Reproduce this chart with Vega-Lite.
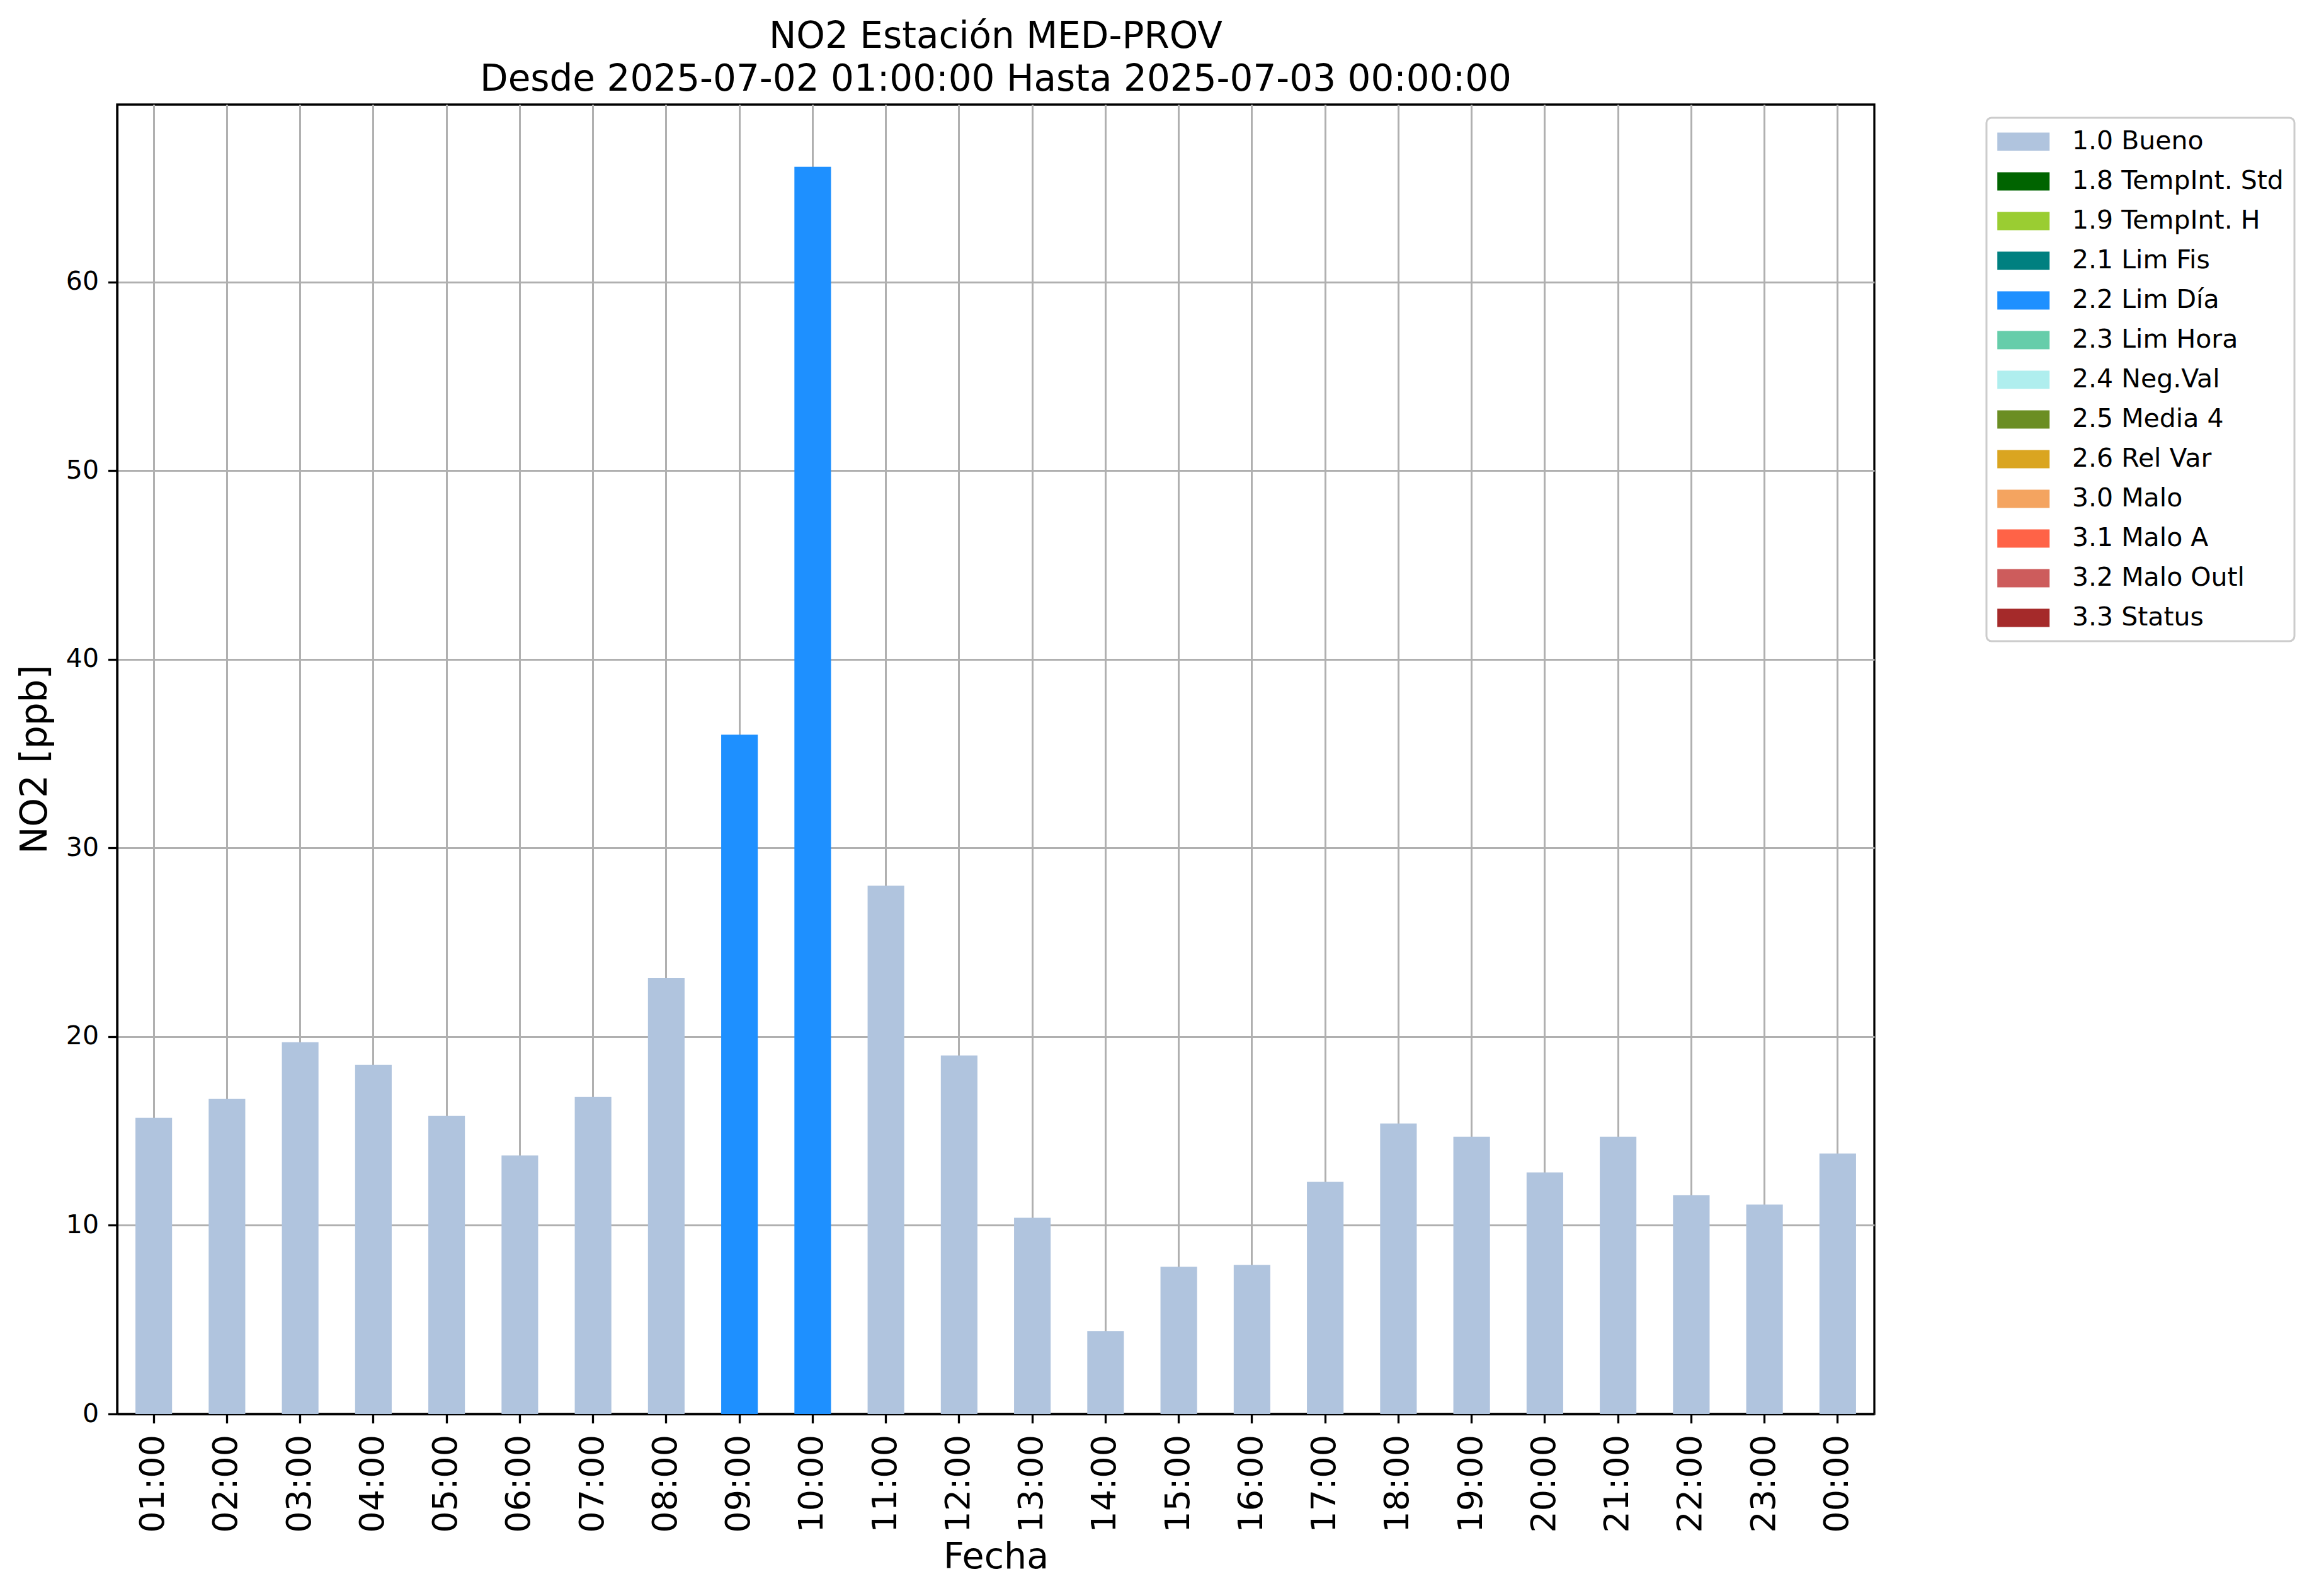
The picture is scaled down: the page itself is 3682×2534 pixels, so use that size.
{
  "$schema": "https://vega.github.io/schema/vega-lite/v6.json",
  "width": 2790,
  "height": 2079,
  "autosize": {"type": "none"},
  "padding": {"left": 186, "top": 166, "right": 706, "bottom": 289},
  "background": "white",
  "title": {
    "text": ["NO2 Estación MED-PROV", "Desde 2025-07-02 01:00:00 Hasta 2025-07-03 00:00:00"],
    "font": "DejaVu Sans",
    "fontSize": 58,
    "fontWeight": "normal",
    "color": "black",
    "anchor": "middle",
    "lineHeight": 68,
    "offset": 10
  },
  "config": {
    "view": {"stroke": "black", "strokeWidth": 3.3},
    "axis": {
      "labelFont": "DejaVu Sans",
      "titleFont": "DejaVu Sans",
      "labelColor": "black",
      "titleColor": "black",
      "titleFontWeight": "normal",
      "domainColor": "black",
      "domainWidth": 3.3,
      "tickColor": "black",
      "tickWidth": 3.3,
      "tickSize": 14.5,
      "gridColor": "#b0b0b0",
      "gridWidth": 3,
      "gridOpacity": 1,
      "zindex": 1
    },
    "legend": {
      "labelFont": "DejaVu Sans"
    }
  },
  "data": {
    "values": [
      {"hora": "01:00", "valor": 15.7, "estado": "1.0 Bueno"},
      {"hora": "02:00", "valor": 16.7, "estado": "1.0 Bueno"},
      {"hora": "03:00", "valor": 19.7, "estado": "1.0 Bueno"},
      {"hora": "04:00", "valor": 18.5, "estado": "1.0 Bueno"},
      {"hora": "05:00", "valor": 15.8, "estado": "1.0 Bueno"},
      {"hora": "06:00", "valor": 13.7, "estado": "1.0 Bueno"},
      {"hora": "07:00", "valor": 16.8, "estado": "1.0 Bueno"},
      {"hora": "08:00", "valor": 23.1, "estado": "1.0 Bueno"},
      {"hora": "09:00", "valor": 36.0, "estado": "2.2 Lim Día"},
      {"hora": "10:00", "valor": 66.1, "estado": "2.2 Lim Día"},
      {"hora": "11:00", "valor": 28.0, "estado": "1.0 Bueno"},
      {"hora": "12:00", "valor": 19.0, "estado": "1.0 Bueno"},
      {"hora": "13:00", "valor": 10.4, "estado": "1.0 Bueno"},
      {"hora": "14:00", "valor": 4.4, "estado": "1.0 Bueno"},
      {"hora": "15:00", "valor": 7.8, "estado": "1.0 Bueno"},
      {"hora": "16:00", "valor": 7.9, "estado": "1.0 Bueno"},
      {"hora": "17:00", "valor": 12.3, "estado": "1.0 Bueno"},
      {"hora": "18:00", "valor": 15.4, "estado": "1.0 Bueno"},
      {"hora": "19:00", "valor": 14.7, "estado": "1.0 Bueno"},
      {"hora": "20:00", "valor": 12.8, "estado": "1.0 Bueno"},
      {"hora": "21:00", "valor": 14.7, "estado": "1.0 Bueno"},
      {"hora": "22:00", "valor": 11.6, "estado": "1.0 Bueno"},
      {"hora": "23:00", "valor": 11.1, "estado": "1.0 Bueno"},
      {"hora": "00:00", "valor": 13.8, "estado": "1.0 Bueno"}
    ]
  },
  "mark": {"type": "bar", "opacity": 1},
  "encoding": {
    "x": {
      "field": "hora",
      "type": "nominal",
      "sort": null,
      "scale": {"paddingInner": 0.5, "paddingOuter": 0.25},
      "axis": {
        "title": "Fecha",
        "titleFontSize": 57,
        "titlePadding": 11,
        "labelFontSize": 54,
        "labelAngle": -90,
        "labelPadding": 18,
        "grid": true
      }
    },
    "y": {
      "field": "valor",
      "type": "quantitative",
      "scale": {"domain": [0, 69.4], "nice": false, "zero": true},
      "axis": {
        "title": "NO2 [ppb]",
        "titleFontSize": 58,
        "titlePadding": 19,
        "labelFontSize": 41,
        "labelPadding": 15,
        "values": [0, 10, 20, 30, 40, 50, 60],
        "grid": true
      }
    },
    "color": {
      "field": "estado",
      "type": "nominal",
      "scale": {
        "domain": ["1.0 Bueno", "1.8 TempInt. Std", "1.9 TempInt. H", "2.1 Lim Fis", "2.2 Lim Día", "2.3 Lim Hora", "2.4 Neg.Val", "2.5 Media 4", "2.6 Rel Var", "3.0 Malo", "3.1 Malo A", "3.2 Malo Outl", "3.3 Status"],
        "range": ["#b0c4de", "#006400", "#9acd32", "#008080", "#1e90ff", "#66cdaa", "#afeeee", "#6b8e23", "#daa520", "#f4a460", "#ff6347", "#cd5c5c", "#a52a2a"]
      },
      "legend": {
        "title": null,
        "orient": "none",
        "legendX": 2968,
        "legendY": 21,
        "padding": 17,
        "strokeColor": "#cccccc",
        "cornerRadius": 8,
        "fillColor": "white",
        "labelFontSize": 41,
        "labelColor": "black",
        "labelLimit": 1000,
        "labelOffset": 77,
        "rowPadding": 22,
        "symbolType": "M-1,-0.7L3,-0.7L3,0.7L-1,0.7Z",
        "symbolSize": 1722,
        "symbolStrokeWidth": 0,
        "symbolOpacity": 1,
        "encode": {"legend": {"update": {"strokeWidth": {"value": 3}}}}
      }
    }
  }
}
